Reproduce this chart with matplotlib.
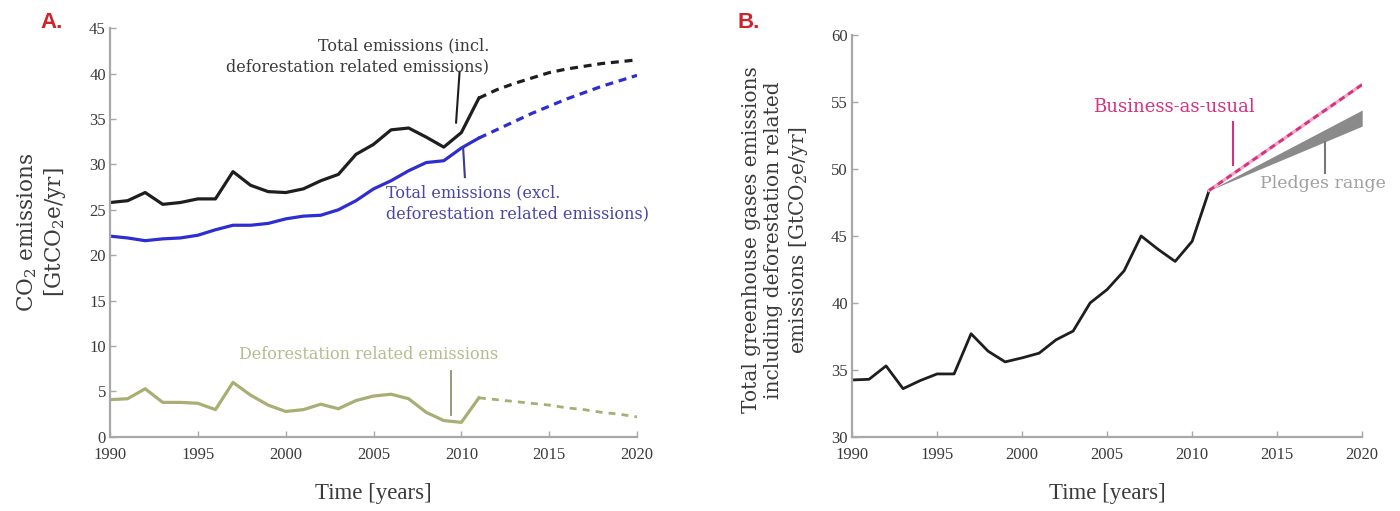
import numpy as np
import matplotlib
matplotlib.use("Agg")
import matplotlib.pyplot as plt

plt.rcParams["font.family"] = ["Liberation Serif", "DejaVu Serif"]
plt.rcParams["mathtext.fontset"] = "dejavuserif"

# ---------- data (panel A) ----------
years_hist = [1990, 1991, 1992, 1993, 1994, 1995, 1996, 1997, 1998, 1999, 2000,
              2001, 2002, 2003, 2004, 2005, 2006, 2007, 2008, 2009, 2010, 2011]
years_proj = [2011, 2012, 2013, 2014, 2015, 2016, 2017, 2018, 2019, 2020]

total_incl = [25.8, 26.0, 26.9, 25.6, 25.8, 26.2, 26.2, 29.2, 27.7, 27.0, 26.9,
              27.3, 28.2, 28.9, 31.1, 32.2, 33.8, 34.0, 33.0, 31.9, 33.5, 37.3]
total_incl_proj = [37.3, 38.2, 38.9, 39.5, 40.1, 40.5, 40.8, 41.1, 41.3, 41.5]

total_excl = [22.1, 21.9, 21.6, 21.8, 21.9, 22.2, 22.8, 23.3, 23.3, 23.5, 24.0,
              24.3, 24.4, 25.0, 26.0, 27.3, 28.2, 29.3, 30.2, 30.4, 31.8, 32.9]
total_excl_proj = [32.9, 33.8, 34.7, 35.6, 36.4, 37.2, 37.9, 38.6, 39.2, 39.8]

deforest = [4.1, 4.2, 5.3, 3.8, 3.8, 3.7, 3.0, 6.0, 4.6, 3.5, 2.8,
            3.0, 3.6, 3.1, 4.0, 4.5, 4.7, 4.2, 2.7, 1.8, 1.6, 4.3]
deforest_proj = [4.3, 4.1, 3.9, 3.7, 3.5, 3.2, 3.0, 2.7, 2.5, 2.2]

# ---------- data (panel B) ----------
ghg_total = [34.25, 34.3, 35.3, 33.6, 34.2, 34.7, 34.7, 37.7, 36.4, 35.6, 35.9,
             36.25, 37.25, 37.9, 40.0, 41.0, 42.4, 45.0, 44.0, 43.1, 44.6, 48.4]
bau_years = [2011, 2020]
bau_values = [48.4, 56.3]
pledge_years = [2011, 2020]
pledge_low = [48.4, 53.2]
pledge_high = [48.4, 54.4]

xticks = [1990, 1995, 2000, 2005, 2010, 2015, 2020]
yticks_a = [0, 5, 10, 15, 20, 25, 30, 35, 40, 45]
yticks_b = [30, 35, 40, 45, 50, 55, 60]

BLACK = "#1e1e1e"
BLUE = "#2d2dd2"
GREEN = "#a8ae74"
GREEN_TXT = "#b7bb8e"
BLUE_TXT = "#4a46a8"
PINK = "#d8307e"
GREY = "#8a8a8a"
SPINE = "#a8a8a8"
TXT = "#3a3a3a"
ANN = "DejaVu Serif"


def style_axes(ax, yticks):
    for s in ("top", "right"):
        ax.spines[s].set_visible(False)
    for s in ("left", "bottom"):
        ax.spines[s].set_color(SPINE)
        ax.spines[s].set_linewidth(1.6)
    ax.set_xticks(xticks)
    ax.set_yticks(yticks)
    ax.tick_params(direction="in", length=4, width=1, color=SPINE,
                   labelsize=12, labelcolor=TXT)
    ax.tick_params(axis="x", pad=7.5)
    ax.tick_params(axis="y", pad=3)
    ax.set_xlim(1990, 2020)
    ax.set_xlabel("Time [years]", fontsize=16.5, color=TXT, labelpad=14)


fig = plt.figure(figsize=(14, 5.11), dpi=100)

# ---------------- Panel A ----------------
ax1 = fig.add_axes([0.0786, 0.145, 0.3764, 0.80])
ax1.plot(years_hist, total_incl, color=BLACK, lw=2.3)
ax1.plot(years_proj, total_incl_proj, color=BLACK, lw=2.3, dashes=(2.5, 1.8))
ax1.plot(years_hist, total_excl, color=BLUE, lw=2.3)
ax1.plot(years_proj, total_excl_proj, color=BLUE, lw=2.3, dashes=(2.5, 1.8))
ax1.plot(years_hist, deforest, color=GREEN, lw=2.3)
ax1.plot(years_proj, deforest_proj, color=GREEN, lw=2.0, dashes=(2.5, 2.2))
ax1.set_ylim(0, 45)
style_axes(ax1, yticks_a)
ax1.set_ylabel("CO$_2$ emissions\n[GtCO$_2$e/yr]", fontsize=15.5, color=TXT,
               family=ANN, linespacing=1.15, va="center")
ax1.yaxis.set_label_coords(-0.13, 0.5)

ax1.text(2011.6, 41.9, "Total emissions (incl.\ndeforestation related emissions)",
         ha="right", va="center", fontsize=11.5, color=TXT, family=ANN,
         linespacing=1.25)
ax1.plot([2009.9, 2009.7], [40.2, 34.6], color=BLACK, lw=1.5)

ax1.text(2005.7, 25.7, "Total emissions (excl.\ndeforestation related emissions)",
         ha="left", va="center", fontsize=11.5, color=BLUE_TXT, family=ANN,
         linespacing=1.25)
ax1.plot([2010.1, 2010.2], [31.9, 28.6], color="#3a3a90", lw=1.5)

ax1.text(2004.7, 9.1, "Deforestation related emissions", ha="center", va="center",
         fontsize=11.5, color=GREEN_TXT, family=ANN)
ax1.plot([2009.4, 2009.4], [7.2, 2.4], color="#8e9270", lw=1.3)

fig.text(0.029, 0.955, "A.", fontsize=16, fontweight="bold", color="#d0222a",
         family="Liberation Sans", va="center")

# ---------------- Panel B ----------------
ax2 = fig.add_axes([0.6086, 0.145, 0.3644, 0.7865])
ax2.fill_between(pledge_years, pledge_low, pledge_high, color=GREY, lw=0)
ax2.plot(years_hist, ghg_total, color=BLACK, lw=2.0)
ax2.plot(bau_years, bau_values, color="#f2a6c8", lw=2.4)
ax2.plot(bau_years, bau_values, color=PINK, lw=2.0, dashes=(2.2, 1.6))
ax2.set_ylim(30, 60)
style_axes(ax2, yticks_b)
ax2.set_ylabel("Total greenhouse gases emissions\nincluding deforestation related\n"
               "emissions [GtCO$_2$e/yr]", fontsize=14.5, color=TXT, family=ANN,
               linespacing=1.2, va="center")
ax2.yaxis.set_label_coords(-0.149, 0.49)

ax2.text(2008.9, 54.6, "Business-as-usual", ha="center", va="center",
         fontsize=13, color=PINK, family=ANN)
ax2.plot([2012.4, 2012.4], [53.5, 50.3], color=PINK, lw=1.5)

ax2.text(2014.0, 48.95, "Pledges range", ha="left", va="center",
         fontsize=12.5, color="#a0a0a0", family=ANN)
ax2.plot([2017.8, 2017.8], [52.0, 49.7], color="#777777", lw=1.5)

fig.text(0.527, 0.955, "B.", fontsize=16, fontweight="bold", color="#d0222a",
         family="Liberation Sans", va="center")

fig.savefig("out.png", dpi=100)
